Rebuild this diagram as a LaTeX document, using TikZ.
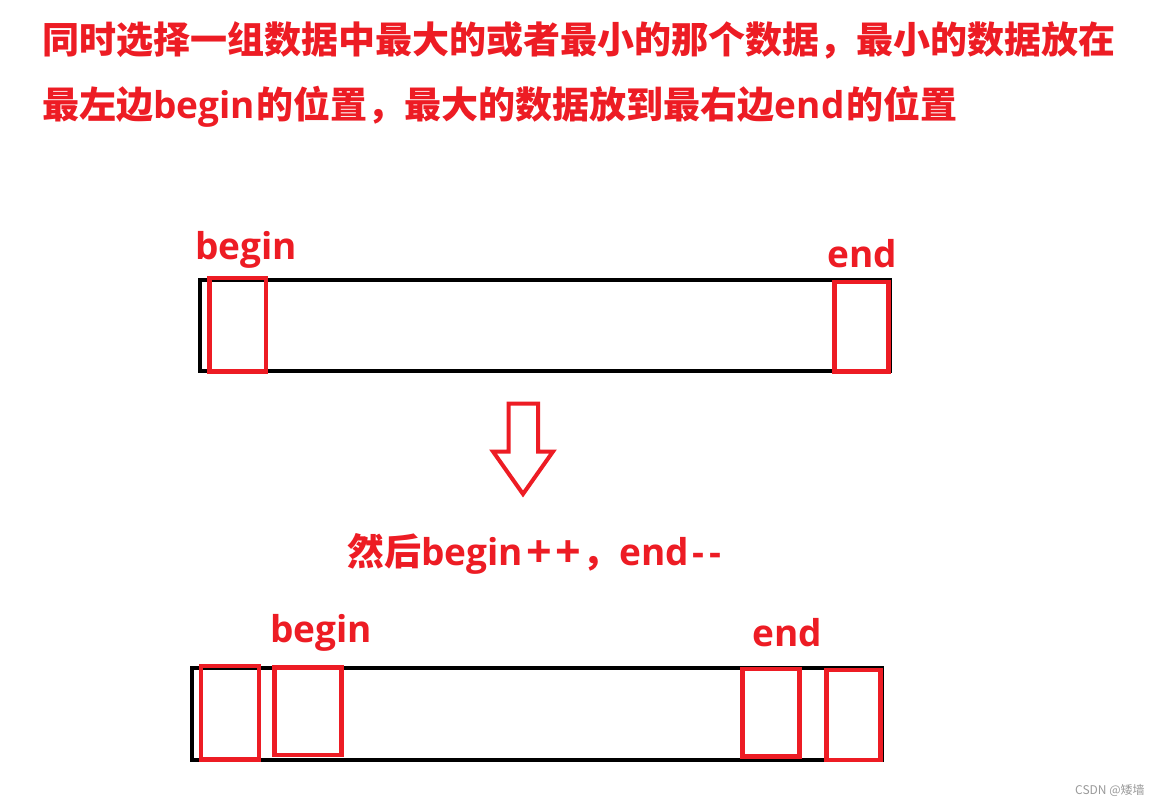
\documentclass[tikz,border=0pt]{standalone}
\usepackage{fontspec}
\setmainfont{Open Sans}
\newfontfamily\cjkfont{Noto Sans CJK SC}
\newfontfamily\latfont{Open Sans}
\newcommand\lw[1]{{\latfont\bfseries #1}}
\newcommand\bigplus{\raisebox{-2.5pt}{\latfont\bfseries\fontsize{45}{45}\selectfont +}}
\definecolor{pred}{HTML}{ED1C24}
\definecolor{wmgray}{HTML}{9A9A9A}
\tikzset{
  redtxt/.style={text=pred, inner sep=0pt, anchor=base west, font=\cjkfont\bfseries\fontsize{37}{40}\selectfont},
  bar/.style={draw=black, line width=4pt},
  cell/.style={draw=pred, line width=4.5pt},
}
\begin{document}
\begin{tikzpicture}[x=1pt,y=-1pt]
\useasboundingbox[fill=white] (0,0) rectangle (1159,805);
% title
\node[redtxt] (t1) at (42,54) {同时选择一组数据中最大的或者最小的那个数据，最小的数据放在};
\node[redtxt] (t2) at (42,119) {最左边\lw{begin}\hspace{2pt}的位置，最大的数据放到最右边\lw{end}\hspace{2pt}的位置};
% upper array
\draw[bar] (200,280) rectangle (890,371);
\draw[cell] (209.5,278) rectangle (266,371.5);
\draw[cell] (834.5,282) rectangle (888.5,371.5);
\node[redtxt] (b1) at (195,259) {\lw{begin}};
\node[redtxt] (e1) at (827,267) {\lw{end}};
% arrow
\draw[draw=pred, line width=4pt, line join=miter] (508.5,403.5) -- (538,403.5) -- (538,451.5) -- (553,451.5) -- (523,494) -- (493,451.5) -- (508.5,451.5) -- cycle;
% middle text
\node[redtxt] (m) at (347,565) {然后\lw{begin}\hspace{4pt}\bigplus\hspace{3pt}\bigplus\hspace{1pt}，\lw{end}\hspace{4pt}\lw{-}\hspace{5pt}\lw{-}};
% lower array
\draw[bar] (192,668) rectangle (882,759.5);
\draw[cell] (201,666) rectangle (259,759.5);
\draw[cell] (274.5,667.5) rectangle (341.5,755);
\draw[cell] (742.5,669) rectangle (799.5,756.5);
\draw[cell] (826.5,670) rectangle (880.5,760);
\node[redtxt] (b2) at (270,642) {\lw{begin}};
\node[redtxt] (e2) at (752,646) {\lw{end}};
% watermark
\node[text=wmgray, inner sep=0pt, anchor=base west, font=\cjkfont\fontsize{12}{13}\selectfont] (wm) at (1075,794) {CSDN @矮墙};
\end{tikzpicture}
\end{document}
